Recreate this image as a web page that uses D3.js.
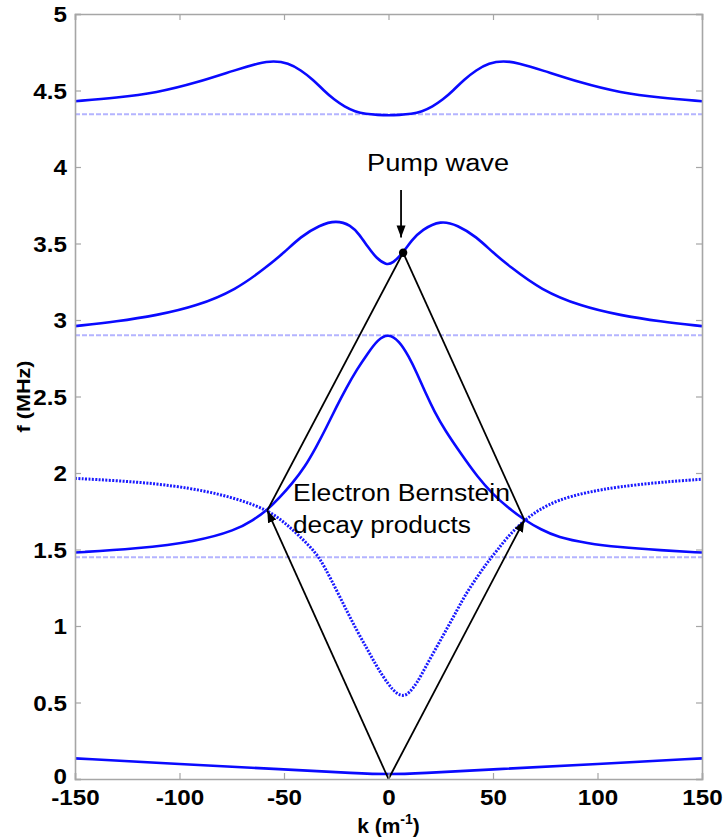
<!DOCTYPE html>
<html>
<head>
<meta charset="utf-8">
<script src="https://cdn.jsdelivr.net/npm/d3@7"></script>
<style>
  body { margin: 0; background: #fff; }
  text { font-family: "Liberation Sans", Arial, sans-serif; }
</style>
</head>
<body>
<div id="chart"></div>
<script>
// dispersion branches, [k (1/m), f (MHz)]
var band1 = [[-150,4.43],[-130,4.452],[-111,4.485],[-92,4.55],[-73,4.635],[-62,4.68],[-55,4.695],[-48,4.68],[-42,4.634],
  [-36,4.57],[-31,4.50],[-26,4.44],[-21,4.394],[-16,4.362],[-11,4.346],[-5,4.34],[0,4.338],[5,4.34],[11,4.346],[16,4.362],
  [21,4.394],[26,4.44],[31,4.50],[36,4.57],[42,4.634],[48,4.68],[55,4.695],[62,4.68],[73,4.635],[92,4.55],[111,4.485],
  [130,4.452],[150,4.43]];
var band2 = [[-150,2.96],[-130,2.99],[-111,3.03],[-92,3.09],[-73,3.196],[-58,3.35],[-50,3.44],[-42,3.545],[-33,3.62],
  [-25,3.652],[-18,3.62],[-14,3.56],[-10,3.48],[-5.6,3.40],[-1,3.36],[2,3.37],[7,3.44],[11,3.52],[16,3.59],[25,3.652],
  [33,3.62],[42,3.545],[50,3.44],[58,3.35],[73,3.196],[92,3.09],[111,3.03],[130,2.99],[150,2.96]];
var band3 = [[-150,1.48],[-121,1.505],[-92,1.551],[-73,1.627],[-65,1.69],[-58,1.758],[-52,1.84],[-46,1.933],[-40,2.04],
  [-34.5,2.172],[-30,2.29],[-24.9,2.433],[-20,2.56],[-15.3,2.673],[-10,2.78],[-5,2.875],[0,2.91],[5,2.865],[9.8,2.76],
  [13.5,2.655],[17.5,2.53],[22,2.40],[27,2.28],[35,2.12],[42.5,1.976],[50,1.86],[57,1.775],[65,1.693],[73,1.63],[81,1.58],
  [95,1.54],[110,1.515],[130,1.495],[150,1.48]];
var mirrored = [[-150,1.965],[-130,1.95],[-111.5,1.931],[-95,1.90],[-82.6,1.867],[-70,1.82],[-58,1.758],[-50,1.68],
  [-42.2,1.584],[-34.5,1.475],[-30.7,1.39],[-24.9,1.235],[-20,1.10],[-15.3,0.974],[-10,0.845],[-5.6,0.734],[0,0.615],
  [4,0.555],[7.4,0.54],[10,0.565],[13.6,0.625],[18,0.74],[23.2,0.865],[28,0.985],[32.9,1.105],[37,1.21],[42.5,1.322],
  [47,1.41],[52.1,1.497],[58,1.6],[65.2,1.693],[72,1.76],[81,1.824],[95,1.875],[110,1.91],[130,1.94],[150,1.959]];
var band0 = [[-150,0.135],[-100,0.098],[-50,0.063],[-15,0.037],[0,0.03],[15,0.037],[50,0.063],[100,0.098],[150,0.135]];
var asymptotes = [4.345, 2.9, 1.45];

// decay triangle
var origin = [0, 0];
var pump = [7, 3.44];
var leftProduct = [-58, 1.755];
var rightProduct = [65, 1.693];
var pumpArrow = [[6, 3.85], [6, 3.54]];

var xTicks = [-150, -100, -50, 0, 50, 100, 150];
var yTicks = [0, 0.5, 1, 1.5, 2, 2.5, 3, 3.5, 4, 4.5, 5];

var width = 723, height = 840;
var m = {left: 75, right: 21, top: 14, bottom: 61};

var svg = d3.select("#chart").append("svg")
  .attr("width", width).attr("height", height);

var x = d3.scaleLinear().domain([-150, 150]).range([m.left, width - m.right]);
var y = d3.scaleLinear().domain([0, 5]).range([height - m.bottom, m.top]);

var defs = svg.append("defs");
defs.append("marker")
  .attr("id", "head")
  .attr("markerUnits", "userSpaceOnUse")
  .attr("markerWidth", 13).attr("markerHeight", 10)
  .attr("refX", 12).attr("refY", 4.5)
  .attr("orient", "auto")
  .append("path")
  .attr("d", "M0,0 L12,4.5 L0,9 Z")
  .attr("fill", "#000");

var line = d3.line()
  .x(function(d){ return x(d[0]); })
  .y(function(d){ return y(d[1]); })
  .curve(d3.curveBasis);

// asymptote lines
svg.selectAll(".asym")
  .data(asymptotes)
  .enter().append("line")
  .attr("x1", x(-150)).attr("x2", x(150))
  .attr("y1", function(d){ return y(d); })
  .attr("y2", function(d){ return y(d); })
  .attr("stroke", "#b4b4ff")
  .attr("stroke-width", 2)
  .attr("stroke-dasharray", "5,2");

[band1, band2, band3, band0].forEach(function(b){
  svg.append("path")
    .attr("d", line(b))
    .attr("fill", "none")
    .attr("stroke", "#0a0aff")
    .attr("stroke-width", 2.6);
});

svg.append("path")
  .attr("d", line(mirrored))
  .attr("fill", "none")
  .attr("stroke", "#1a1aff")
  .attr("stroke-width", 3)
  .attr("stroke-dasharray", "2,1.4");

// wave vectors
function seg(a, b, arrow) {
  var s = svg.append("line")
    .attr("x1", x(a[0])).attr("y1", y(a[1]))
    .attr("x2", x(b[0])).attr("y2", y(b[1]))
    .attr("stroke", "#000")
    .attr("stroke-width", 1.8);
  if (arrow) s.attr("marker-end", "url(#head)");
}
seg(leftProduct, pump, false);
seg(rightProduct, pump, false);
seg(origin, leftProduct, true);
seg(origin, rightProduct, true);
seg(pumpArrow[0], pumpArrow[1], true);

svg.append("circle")
  .attr("cx", x(pump[0])).attr("cy", y(pump[1]))
  .attr("r", 4.2).attr("fill", "#000");

// frame and axes
var frame = "#a6a6a6";
var gx = svg.append("g")
  .attr("transform", "translate(0," + y(0) + ")")
  .call(d3.axisBottom(x).tickValues(xTicks).tickSize(-6).tickPadding(10).tickFormat(function(d){ return String(d); }));
var gxt = svg.append("g")
  .attr("transform", "translate(0," + y(5) + ")")
  .call(d3.axisTop(x).tickValues(xTicks).tickSize(-6).tickFormat(""));
var gy = svg.append("g")
  .attr("transform", "translate(" + x(-150) + ",0)")
  .call(d3.axisLeft(y).tickValues(yTicks).tickSize(-6).tickPadding(8).tickFormat(function(d){ return String(d); }));
var gyr = svg.append("g")
  .attr("transform", "translate(" + x(150) + ",0)")
  .call(d3.axisRight(y).tickValues(yTicks).tickSize(-6).tickFormat(""));

[gx, gxt, gy, gyr].forEach(function(g){
  g.select(".domain").attr("stroke", frame).attr("stroke-width", 1.6);
  g.selectAll(".tick line").attr("stroke", frame).attr("stroke-width", 1.2);
});
[gx, gy].forEach(function(g){
  g.selectAll(".tick text")
    .attr("fill", "#000")
    .style("font-size", "22px")
    .style("font-weight", "bold")
    .each(function(){
      var w = this.getComputedTextLength();
      d3.select(this).attr("textLength", w * 1.1).attr("lengthAdjust", "spacingAndGlyphs");
    });
});
gy.selectAll(".tick text").attr("dy", "0.36em");
gy.selectAll(".tick text").filter(function(d){ return d === 0; }).attr("dy", "0.2em");

// axis labels
svg.append("text")
  .attr("transform", "translate(30," + ((y(0) + y(5)) / 2) + ") rotate(-90)")
  .attr("text-anchor", "middle")
  .attr("textLength", 72).attr("lengthAdjust", "spacingAndGlyphs")
  .style("font-size", "19px").style("font-weight", "bold")
  .text("f (MHz)");

var xl = svg.append("text")
  .attr("x", x(0)).attr("y", 833)
  .attr("text-anchor", "middle")
  .style("font-size", "21px").style("font-weight", "bold");
xl.append("tspan").text("k (m");
xl.append("tspan").attr("dy", -9).style("font-size", "14px").text("-1");
xl.append("tspan").attr("dy", 9).text(")");

// annotations
function note(tx, ty, str, len) {
  svg.append("text")
    .attr("x", tx).attr("y", ty)
    .attr("textLength", len).attr("lengthAdjust", "spacingAndGlyphs")
    .style("font-size", "23px")
    .text(str);
}
note(367, 171, "Pump wave", 142);
note(293, 501, "Electron Bernstein", 217);
note(293, 533, "decay products", 178);
</script>
</body>
</html>
